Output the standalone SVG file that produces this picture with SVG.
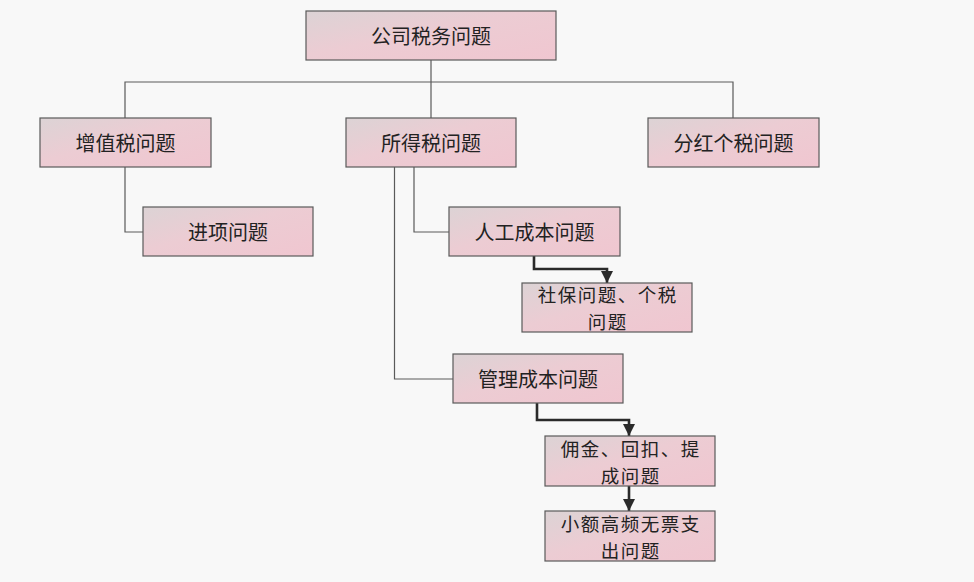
<svg xmlns="http://www.w3.org/2000/svg" width="974" height="582" viewBox="0 0 974 582">
<defs>
<linearGradient id="g" x1="0" y1="0" x2="1" y2="1">
<stop offset="0" stop-color="#dcd3d5"/>
<stop offset="0.45" stop-color="#ecccd3"/>
<stop offset="1" stop-color="#f0c6d0"/>
</linearGradient>
<marker id="ah" markerUnits="userSpaceOnUse" markerWidth="12" markerHeight="15" refX="10" refY="5" orient="auto" viewBox="0 0 10 10">
<path d="M0,0 L10,5 L0,10 Z" fill="#2a2a2a"/>
</marker>
<style>
.box{fill:url(#g);stroke:#5a5a5a;stroke-width:1.2}
.t{font-family:"Noto Sans CJK SC","Noto Sans CJK JP",sans-serif;font-size:20px;fill:#222;text-anchor:middle;dominant-baseline:central}
.t2{font-size:18.5px;letter-spacing:1.5px}
.ln{fill:none;stroke:#5a5a5a;stroke-width:1.2}
.ar{fill:none;stroke:#2a2a2a;stroke-width:2.6;marker-end:url(#ah)}
</style>
</defs>
<rect width="974" height="582" fill="#f8f8f8"/>
<g id="connectors">
<path class="ln" d="M431,60 V82"/>
<path class="ln" d="M125,118 V82 H733 V118"/>
<path class="ln" d="M431,82 V118"/>
<path class="ln" d="M125,167 V232 H143"/>
<path class="ln" d="M414,167 V232 H449"/>
<path class="ln" d="M394.5,167 V379 H453"/>
<path class="ar" d="M534,256 V269 H607 V283"/>
<path class="ar" d="M537,403 V420 H629 V436"/>
<path class="ar" d="M629,486 V511"/>
</g>
<g id="n_root"><rect class="box" x="306" y="11" width="250" height="49"/><text class="t" x="431" y="35.5">公司税务问题</text></g>
<g id="n_vat"><rect class="box" x="40" y="118" width="171" height="49"/><text class="t" x="125.5" y="142.5">增值税问题</text></g>
<g id="n_income"><rect class="box" x="346" y="118" width="170" height="49"/><text class="t" x="431" y="142.5">所得税问题</text></g>
<g id="n_dividend"><rect class="box" x="648" y="118" width="171" height="49"/><text class="t" x="733.5" y="142.5">分红个税问题</text></g>
<g id="n_input"><rect class="box" x="143" y="207" width="170" height="49"/><text class="t" x="228" y="231.5">进项问题</text></g>
<g id="n_labor"><rect class="box" x="449" y="207" width="171" height="49"/><text class="t" x="534.5" y="231.5">人工成本问题</text></g>
<g id="n_social"><rect class="box" x="522" y="283" width="170" height="49"/><text class="t t2" x="607.7" y="294">社保问题、个税<tspan x="607.7" dy="27">问题</tspan></text></g>
<g id="n_mgmt"><rect class="box" x="453" y="354" width="170" height="49"/><text class="t" x="538" y="378.5">管理成本问题</text></g>
<g id="n_comm"><rect class="box" x="545" y="436" width="170" height="50"/><text class="t t2" x="630.7" y="447.5">佣金、回扣、提<tspan x="630.7" dy="27">成问题</tspan></text></g>
<g id="n_small"><rect class="box" x="545" y="511" width="170" height="50"/><text class="t t2" x="630.7" y="522.5">小额高频无票支<tspan x="630.7" dy="27">出问题</tspan></text></g>
</svg>
